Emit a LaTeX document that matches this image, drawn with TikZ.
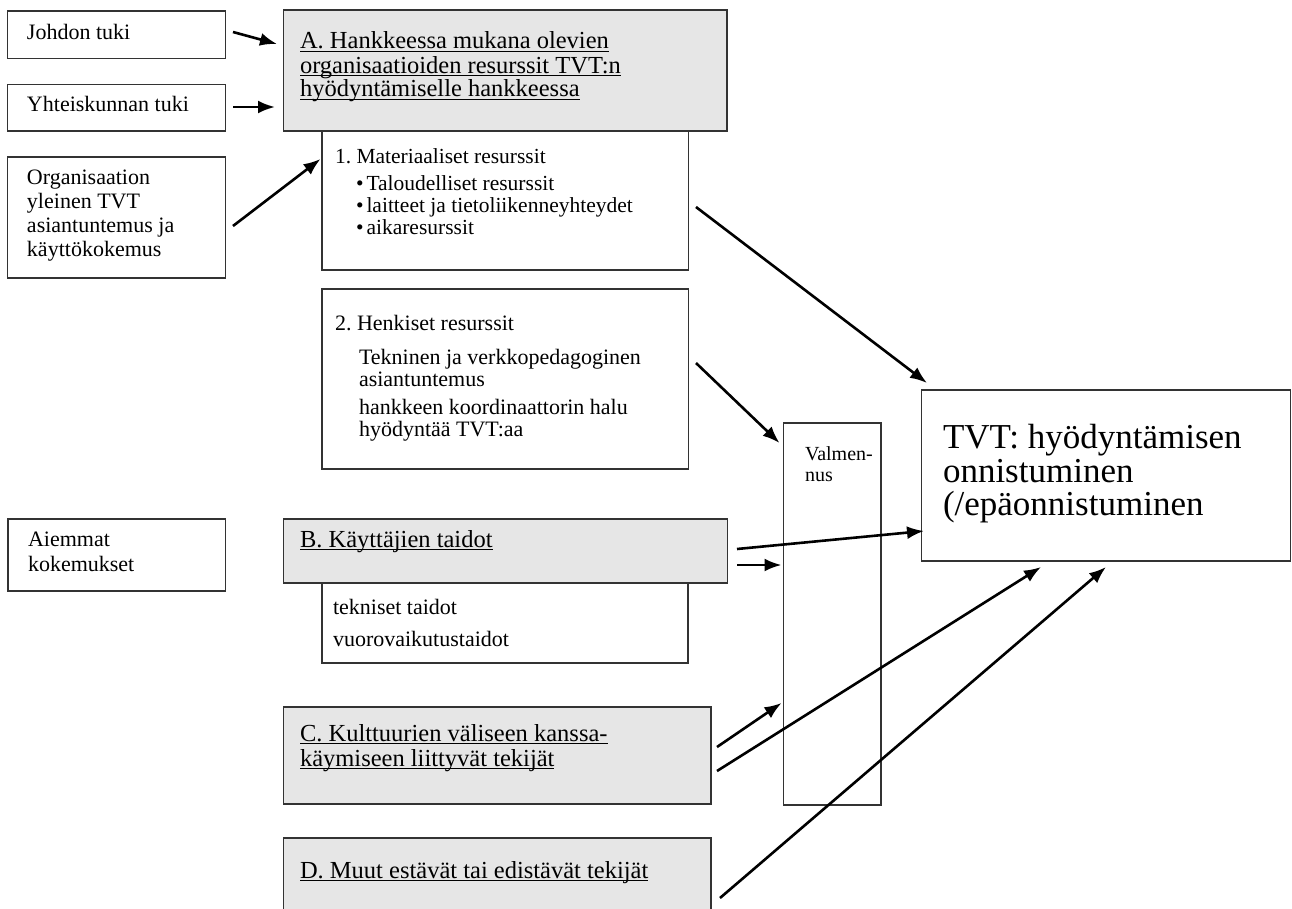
\documentclass[tikz,border=0pt]{standalone}
\usepackage{fontspec}
\setmainfont{Liberation Serif}
\usetikzlibrary{arrows.meta,calc}
\definecolor{boxc}{HTML}{333333}
\definecolor{greyc}{HTML}{E6E6E6}
\newsavebox\myulbox
\newcommand\myul[1]{\sbox\myulbox{#1}\rlap{\rule[-3pt]{\wd\myulbox}{1.2pt}}\usebox\myulbox}
\frenchspacing
\begin{document}
\begin{tikzpicture}[x=1pt,y=-1pt,
  box/.style={draw=boxc, line width=1.4pt, inner sep=0pt, outer sep=0pt, anchor=north west},
  gbox/.style={box, fill=greyc},
  tb/.style={anchor=base west, inner sep=0pt, outer sep=0pt, font=\fontsize{22}{24}\selectfont},
  tm/.style={tb, font=\fontsize{21.5}{23}\selectfont},
  th/.style={tb, font=\fontsize{24.5}{24}\selectfont},
  tv/.style={tb, font=\fontsize{20}{22}\selectfont},
  tt/.style={tb, font=\fontsize{35}{34}\selectfont},
  arr/.style={line width=2.6pt, -{Latex[length=17pt,width=13pt]}}]
\useasboundingbox (0,0) rectangle (1292,909);
\fill[white] (0,0) rectangle (1292,909);

% boxes
\node[box, minimum width=218pt, minimum height=47.5pt] (jo) at (7.5,11) {};
\node[box, minimum width=218pt, minimum height=46.5pt] (yh) at (7.5,84.5) {};
\node[box, minimum width=218pt, minimum height=121pt] (org) at (7.5,157) {};
\node[gbox, minimum width=443.5pt, minimum height=121pt] (A) at (283.5,10) {};
\node[box, minimum width=366.5pt, minimum height=139pt] (mat) at (322,131) {};
\node[box, minimum width=366.5pt, minimum height=180pt] (hen) at (322,289) {};
\node[box, minimum width=217.5pt, minimum height=72pt] (aie) at (8,519) {};
\node[gbox, minimum width=444pt, minimum height=64pt] (B) at (283.5,519) {};
\node[box, minimum width=366pt, minimum height=80pt] (bs) at (322,583) {};
\node[gbox, minimum width=427.5pt, minimum height=97pt] (C) at (283.5,707) {};
\node[gbox, minimum width=427.5pt, minimum height=75pt] (D) at (283.5,838) {};
\node[box, minimum width=97.5pt, minimum height=382pt] (val) at (783.5,423) {};
\node[box, minimum width=369pt, minimum height=171pt] (tvt) at (921.5,390) {};

% texts
\node[tb] (jo-t) at (27,40) {Johdon tuki};
\node[tb] (yh-t) at (27,112) {Yhteiskunnan tuki};
\node[tb] (org-1) at (27,185) {Organisaation};
\node[tb] (org-2) at (27,209) {yleinen TVT};
\node[tb] (org-3) at (27,233) {asiantuntemus ja};
\node[tb] (org-4) at (27,257) {käyttökokemus};

\node[th] (A-1) at (300,49) {\myul{A. Hankkeessa mukana olevien}};
\node[th] (A-2) at (300,73.5) {\myul{organisaatioiden resurssit TVT:n}};
\node[th] (A-3) at (300,97) {\myul{hyödyntämiselle hankkeessa}};

\node[tm] (mat-0) at (335,163.5) {1. Materiaaliset resurssit};
\node[tm] (mat-1) at (356,191) {•\kern3pt Taloudelliset resurssit};
\node[tm] (mat-2) at (356,213) {•\kern3pt laitteet ja tietoliikenneyhteydet};
\node[tm] (mat-3) at (356,235) {•\kern3pt aikaresurssit};

\node[tb] (hen-0) at (335,330) {2. Henkiset resurssit};
\node[tb] (hen-1) at (359,364) {Tekninen ja verkkopedagoginen};
\node[tb] (hen-2) at (359,386) {asiantuntemus};
\node[tb] (hen-3) at (359,414) {hankkeen koordinaattorin halu};
\node[tb] (hen-4) at (359,436) {hyödyntää TVT:aa};

\node[tb] (aie-1) at (28,546) {Aiemmat};
\node[tb] (aie-2) at (28,571) {kokemukset};
\node[th] (B-t) at (300,547) {\myul{B. Käyttäjien taidot}};
\node[tb] (bs-1) at (333,614) {tekniset taidot};
\node[tb] (bs-2) at (333,646) {vuorovaikutustaidot};

\node[th] (C-1) at (300,741) {\myul{C. Kulttuurien väliseen kanssa-}};
\node[th] (C-2) at (300,766) {\myul{käymiseen liittyvät tekijät}};
\node[th] (D-t) at (300,878) {\myul{D. Muut estävät tai edistävät tekijät}};

\node[tv] (val-1) at (805,460) {Valmen-};
\node[tv] (val-2) at (805,481) {nus};

\node[tt] (tvt-1) at (943,448) {TVT: hyödyntämisen};
\node[tt] (tvt-2) at (943,482) {onnistuminen};
\node[tt] (tvt-3) at (943,515) {(/epäonnistuminen};

% connectors
\draw[arr] ($(jo.east)+(7.5,-2.75)$) -- ($(A.west)+(-6.5,-26.5)$);
\draw[arr] ($(yh.east)+(7.5,-0.75)$) -- ($(A.west)+(-8.5,36.5)$);
\draw[arr] ($(org.east)+(7.5,8.5)$) -- ($(mat.west)+(-1.5,-41.5)$);
\draw[arr] ($(mat.east)+(7.5,6.5)$) -- ($(tvt.north west)+(5.5,-7)$);
\draw[arr] ($(hen.east)+(7.5,-16)$) -- ($(val.north west)+(-4,20)$);
\draw[arr] ($(B.east)+(9.5,-2)$) -- ($(tvt.west)+(2.5,55.5)$);
\draw[arr] ($(B.east)+(9.5,14)$) -- ($(val.west)+(-2,-49)$);
\draw[arr] ($(C.east)+(6,-8.5)$) -- ($(val.west)+(-2,89)$);
\draw[arr] ($(C.east)+(6,15.5)$) -- ($(tvt.south)+(-65,6)$);
\draw[arr] ($(D.east)+(9,22.5)$) -- ($(tvt.south)+(0,6)$);
\end{tikzpicture}
\end{document}
